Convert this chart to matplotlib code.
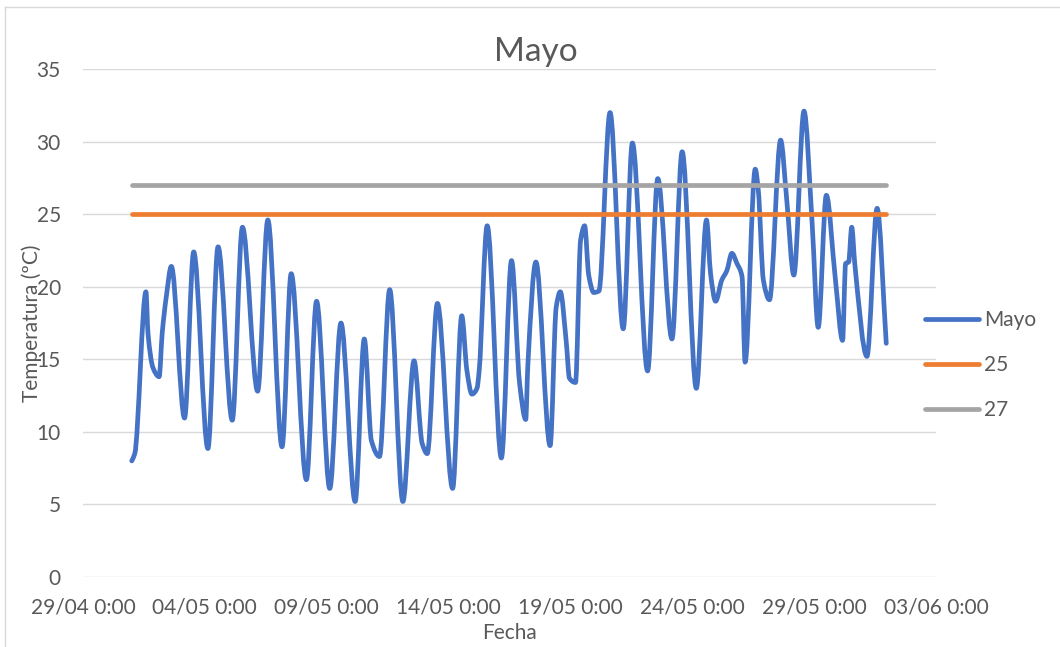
import matplotlib
matplotlib.use("Agg")
import matplotlib.pyplot as plt
import matplotlib.dates as mdates
from matplotlib.path import Path
from matplotlib.patches import PathPatch
from matplotlib.lines import Line2D
import pandas as pd

plt.rcParams['font.family'] = ['Lato', 'DejaVu Sans']

# Temperatura registrada durante mayo (ºC)
fechas = [
    "2021-05-01 00:00", "2021-05-01 03:00", "2021-05-01 14:00", "2021-05-01 16:00",
    "2021-05-01 21:00", "2021-05-02 03:00", "2021-05-02 06:00", "2021-05-02 10:00",
    "2021-05-02 15:00", "2021-05-03 04:00", "2021-05-03 13:00", "2021-05-04 03:00",
    "2021-05-04 13:00", "2021-05-05 03:00", "2021-05-05 13:00", "2021-05-06 04:00",
    "2021-05-06 14:00", "2021-05-07 04:00", "2021-05-07 13:00", "2021-05-08 04:00",
    "2021-05-08 14:00", "2021-05-09 03:00", "2021-05-09 14:00", "2021-05-10 04:00",
    "2021-05-10 13:00", "2021-05-10 20:00", "2021-05-11 04:00", "2021-05-11 14:00",
    "2021-05-12 03:00", "2021-05-12 14:00", "2021-05-12 22:00", "2021-05-13 03:00",
    "2021-05-13 13:00", "2021-05-14 04:00", "2021-05-14 13:00", "2021-05-14 18:00",
    "2021-05-14 23:00", "2021-05-15 04:00", "2021-05-15 06:00", "2021-05-15 14:00",
    "2021-05-16 04:00", "2021-05-16 14:00", "2021-05-16 22:00", "2021-05-17 04:00",
    "2021-05-17 06:00", "2021-05-17 14:00", "2021-05-18 04:00", "2021-05-18 10:00",
    "2021-05-18 14:00", "2021-05-18 20:00", "2021-05-18 23:00", "2021-05-19 05:00",
    "2021-05-19 10:00", "2021-05-19 14:00", "2021-05-19 18:00", "2021-05-19 23:00",
    "2021-05-20 04:00", "2021-05-20 15:00", "2021-05-21 04:00", "2021-05-21 13:00",
    "2021-05-22 04:00", "2021-05-22 14:00", "2021-05-23 04:00", "2021-05-23 14:00",
    "2021-05-24 04:00", "2021-05-24 14:00", "2021-05-24 18:00", "2021-05-24 23:00",
    "2021-05-25 05:00", "2021-05-25 10:00", "2021-05-25 15:00", "2021-05-25 20:00",
    "2021-05-26 01:00", "2021-05-26 04:00", "2021-05-26 14:00", "2021-05-26 17:00",
    "2021-05-26 22:00", "2021-05-27 04:00", "2021-05-27 15:00", "2021-05-27 21:00",
    "2021-05-28 04:00", "2021-05-28 14:00", "2021-05-28 22:00", "2021-05-29 04:00",
    "2021-05-29 12:00", "2021-05-29 21:00", "2021-05-30 04:00", "2021-05-30 07:00",
    "2021-05-30 10:00", "2021-05-30 13:00", "2021-05-30 16:00", "2021-05-31 04:00",
    "2021-05-31 14:00", "2021-05-31 23:00",
]
temperaturas = [
    8.0, 8.5, 19.65, 16.8,
    14.4, 13.8, 16.8, 19.3,
    21.4, 10.95, 22.4, 8.85,
    22.75, 10.8, 24.1, 12.8,
    24.6, 8.97, 20.9, 6.7,
    19.0, 6.1, 17.5, 5.2,
    16.4, 9.4, 8.3, 19.8,
    5.2, 14.9, 9.2, 8.5,
    18.85, 6.1, 18.0, 14.25,
    12.6, 13.0, 14.1, 24.2,
    8.2, 21.8, 13.3, 10.85,
    14.5, 21.7, 9.05, 18.6,
    19.65, 16.1, 13.7, 13.4,
    23.2, 24.2, 20.8, 19.6,
    19.7, 32.0, 17.1, 29.9,
    14.2, 27.45, 16.4, 29.3,
    13.0, 24.6, 20.9, 19.0,
    20.45, 21.1, 22.3, 21.6,
    20.7, 14.8, 28.1, 26.65,
    20.45, 19.1, 30.1, 26.0,
    20.8, 32.1, 24.4, 17.2,
    26.3, 20.45, 16.3, 21.6,
    21.7, 24.1, 21.6, 15.2,
    25.4, 16.1,
]
umbral_25 = 25
umbral_27 = 27

series_nombres = ["Mayo", "25", "27"]
ticks_fechas = ["2021-04-29", "2021-05-04", "2021-05-09", "2021-05-14",
                "2021-05-19", "2021-05-24", "2021-05-29", "2021-06-03"]
ticks_etiquetas = ["29/04 0:00", "04/05 0:00", "09/05 0:00", "14/05 0:00",
                   "19/05 0:00", "24/05 0:00", "29/05 0:00", "03/06 0:00"]
ticks_y = [0, 5, 10, 15, 20, 25, 30, 35]

AZUL = "#4472C4"
NARANJA = "#ED7D31"
GRIS = "#A5A5A5"
TEXTO = "#595959"
REJILLA = "#D9D9D9"

W, H = 1060, 647
fig = plt.figure(figsize=(W / 100, H / 100), dpi=100)
fig.patch.set_facecolor("white")

# Borde del área del gráfico
fig.add_artist(Line2D([5 / W, 5 / W], [-0.1, 1 - 7 / H], transform=fig.transFigure,
                      color=REJILLA, lw=1.0))
fig.add_artist(Line2D([5 / W, 1.1], [1 - 7 / H, 1 - 7 / H], transform=fig.transFigure,
                      color=REJILLA, lw=1.0))

ax = fig.add_axes([83 / W, 1 - 577 / H, 853 / W, 508 / H])

x = list(mdates.date2num(pd.to_datetime(fechas)))
y = temperaturas


def pendientes(xs, ys):
    """Pendientes monótonas (tipo PCHIP) en cada punto."""
    n = len(xs)
    h = [xs[i + 1] - xs[i] for i in range(n - 1)]
    d = [(ys[i + 1] - ys[i]) / h[i] for i in range(n - 1)]
    m = [0.0] * n
    m[0], m[-1] = d[0], d[-1]
    for i in range(1, n - 1):
        if d[i - 1] * d[i] <= 0:
            m[i] = 0.0
        else:
            w1 = 2 * h[i] + h[i - 1]
            w2 = h[i] + 2 * h[i - 1]
            m[i] = (w1 + w2) / (w1 / d[i - 1] + w2 / d[i])
    return m


def curva_suave(xs, ys):
    """Línea suavizada mediante tramos de Bézier cúbicas."""
    m = pendientes(xs, ys)
    verts = [(xs[0], ys[0])]
    codes = [Path.MOVETO]
    for i in range(len(xs) - 1):
        h = xs[i + 1] - xs[i]
        verts += [(xs[i] + h / 3, ys[i] + m[i] * h / 3),
                  (xs[i + 1] - h / 3, ys[i + 1] - m[i + 1] * h / 3),
                  (xs[i + 1], ys[i + 1])]
        codes += [Path.CURVE4] * 3
    return Path(verts, codes)


ax.add_patch(PathPatch(curva_suave(x, y), fill=False, edgecolor=AZUL, lw=3.4,
                       capstyle="round", joinstyle="round", zorder=3))
ax.plot([x[0], x[-1]], [umbral_25, umbral_25], color=NARANJA, lw=3.4,
        solid_capstyle="round", zorder=4)
ax.plot([x[0], x[-1]], [umbral_27, umbral_27], color=GRIS, lw=3.4,
        solid_capstyle="round", zorder=5)

ax.set_xlim(mdates.date2num(pd.to_datetime(ticks_fechas[0])),
            mdates.date2num(pd.to_datetime(ticks_fechas[-1])))
ax.set_ylim(0, 35)
ax.set_xticks(mdates.date2num(pd.to_datetime(ticks_fechas)))
ax.set_xticklabels(ticks_etiquetas)
ax.set_yticks(ticks_y)
ax.set_yticklabels([str(v) for v in ticks_y])

ax.grid(axis="y", color=REJILLA, lw=1.0)
ax.set_axisbelow(True)
for s in ax.spines.values():
    s.set_visible(False)
ax.tick_params(axis="both", length=0, labelsize=15, labelcolor=TEXTO)
ax.tick_params(axis="x", pad=15)
ax.tick_params(axis="y", pad=16)

ax.set_xlabel("Fecha", fontsize=15, color=TEXTO)
ax.xaxis.set_label_coords(0.5, (577 - 633) / 508)
ax.xaxis.label.set_va("center")
ax.set_ylabel("Temperatura (ºC)", fontsize=15, color=TEXTO)
ax.yaxis.set_label_coords((32 - 83) / 853, 0.5)
ax.yaxis.label.set_va("center")

fig.text(535.5 / W, 1 - 52 / H, "Mayo", fontsize=24, color=TEXTO,
         ha="center", va="center")

handles = [Line2D([], [], color=c, lw=3.4, solid_capstyle="round")
           for c in (AZUL, NARANJA, GRIS)]
fig.legend(handles, series_nombres, loc="center left",
           bbox_to_anchor=(925 / W, 1 - 365 / H), frameon=False, fontsize=15,
           labelcolor=TEXTO, handlelength=2.6, handletextpad=0.25,
           labelspacing=1.19, borderpad=0, borderaxespad=0)

fig.savefig("out.png", dpi=100, facecolor="white")
